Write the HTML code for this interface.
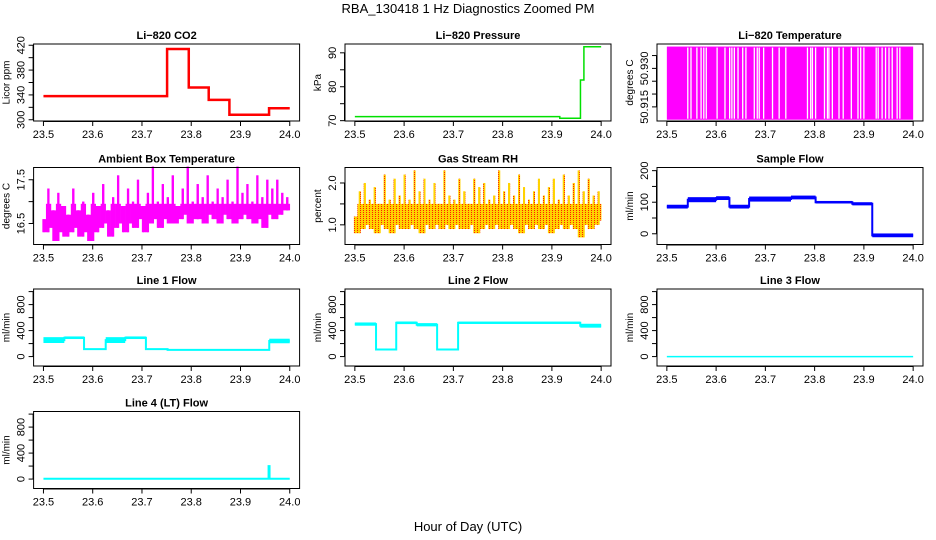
<!DOCTYPE html>
<html><head><meta charset="utf-8"><style>
html,body{margin:0;padding:0;background:#fff;}
svg{display:block;font-family:"Liberation Sans",Arial,sans-serif;}
</style></head><body>
<svg id="c" width="936" height="540" viewBox="0 0 936 540">
<defs><pattern id="dots" width="3" height="2" patternUnits="userSpaceOnUse"><rect width="3" height="2" fill="#ffd200"/><rect width="1" height="1" fill="#ff2000"/></pattern></defs>
<text x="468" y="13" font-size="13" text-anchor="middle">RBA_130418  1 Hz Diagnostics Zoomed PM</text>
<text x="468" y="531" font-size="13" text-anchor="middle">Hour of Day (UTC)</text>
</svg>
<script>
// ---- data ----
const xTicks=[23.5,23.6,23.7,23.8,23.9,24.0];
const co2Times=[23.5,23.751,23.795,23.8355,23.8775,23.958,24.0];
const co2Values=[338,414,352,332,308,318.5];
const presTimes=[23.5,23.916,23.958,23.965,24.0];
const presValues=[71.2,70.7,82,91.8];
const tempGaps=[23.5425,23.549,23.561,23.5695,23.575,23.58,23.602,23.618,23.6275,23.632,23.637,23.6445,23.654,23.6605,23.6775,23.6835,23.6875,23.6965,23.7145,23.728,23.7415,23.7855,23.792,23.7955,23.802,23.82,23.826,23.829,23.836,23.8495,23.858,23.8745,23.888,23.8935,23.9,23.925,23.929,23.937,23.944,23.951,23.9575,23.9675,23.973];
const tempRange=[50.910,50.9385];
const ambValues=[16.6,16.3,17.3,16.4,16.8,16.1,17.2,16.3,16.9,16.2,16.7,16.3,17.3,16.4,16.8,16.2,17.0,16.3,16.7,16.1,17.2,16.3,16.9,16.4,17.4,16.5,16.8,16.2,17.1,16.4,17.6,16.5,16.9,16.3,17.3,16.5,17.0,16.4,17.5,16.6,16.9,16.3,17.2,16.5,17.8,16.6,17.0,16.4,17.4,16.6,17.1,16.5,17.6,16.5,16.9,16.6,17.3,16.7,17.8,16.5,17.0,16.6,17.4,16.6,17.1,16.5,17.6,16.7,17.0,16.6,17.3,16.5,17.1,16.7,17.5,16.6,17.0,16.5,17.8,16.6,17.2,16.7,17.4,16.6,17.0,16.5,17.6,16.6,17.1,16.4,17.5,16.7,17.3,16.6,17.5,16.7,17.2,16.8,17.1,16.8];
const rhValues=[1.2,0.8,1.8,0.9,2.0,1.0,1.6,0.9,1.9,0.8,1.5,1.0,2.2,0.9,1.6,0.8,2.1,1.0,1.7,0.9,2.2,0.9,1.6,1.0,2.3,0.9,1.8,0.8,2.1,1.0,1.6,0.9,2.0,1.0,1.5,0.9,2.3,1.0,1.7,0.9,1.6,1.0,2.1,0.9,1.8,0.9,1.5,1.0,2.1,0.8,1.9,0.9,2.0,1.0,1.6,0.9,1.7,1.0,2.3,0.9,1.8,0.9,2.0,1.0,1.7,0.9,2.2,0.8,1.9,1.0,1.6,0.9,1.8,1.0,2.1,0.9,1.7,1.0,1.9,0.8,2.1,0.9,1.6,1.0,2.2,0.9,1.7,1.0,2.0,0.9,2.3,0.7,1.8,1.0,2.1,0.9,1.7,1.0,1.8,1.1];
const sampleTimes=[23.5,23.5425,23.6,23.627,23.667,23.752,23.802,23.8765,23.917,24.0];
const sampleValues=[86,108,113,86,110,115,100,95,-5];
const sampleNoise=[6,8,6,6,8,6,4,5,6];
const line1Times=[23.5,23.5424,23.5824,23.6264,23.666,23.708,23.752,23.9584,24.0];
const line1Values=[254,290,114,254,290,114,104,240];
const line1Noise=[45,20,6,45,20,6,5,35];
const line2Times=[23.5,23.543,23.584,23.6256,23.667,23.7096,23.9576,24.0];
const line2Values=[500,109,520,490,109,520,475];
const line2Noise=[25,6,20,25,6,18,30];
const line3Times=[23.5,24.0];
const line3Values=[0];
const line4Times=[23.5,23.957,23.959,24.0];
const line4Values=[5,200,5];

// ---- layout ----
const NS='http://www.w3.org/2000/svg';
const svg=document.getElementById('c');
const colL=[33.6,345,657], rowT=[44,167.5,289,411.5], W=266, H=77, X0=23.48, X1=24.02;
function el(tag,attrs,parent){const e=document.createElementNS(NS,tag);for(const k in attrs)e.setAttribute(k,attrs[k]);(parent||svg).appendChild(e);return e;}

function panel(key,col,row,title,ylab,ylim,yticks,ylabels){
  const L=colL[col],T=rowT[row];
  const g=el('g',{});
  
  
  const sx=t=>L+(t-X0)/(X1-X0)*W;
  const sy=v=>T+H-(v-ylim[0])/(ylim[1]-ylim[0])*H;
  const t=el('text',{x:L+W/2,y:T-5,'font-size':11,'font-weight':'bold','text-anchor':'middle'},g);
  t.textContent=title;
  
  
  const ax=el('g',{stroke:'#000','stroke-width':1,fill:'none'},g);
  
  
  el('line',{x1:sx(xTicks[0]),x2:sx(xTicks[xTicks.length-1]),y1:T+H+0.5,y2:T+H+0.5},ax);
  xTicks.forEach(v=>{
    el('line',{x1:sx(v),x2:sx(v),y1:T+H,y2:T+H+5},ax);
    const tx=el('text',{x:sx(v),y:T+H+17,'font-size':11,'text-anchor':'middle',fill:'#000',stroke:'none'},g);
    tx.textContent=v.toFixed(1);
    
    
  });
  const ay=el('g',{stroke:'#000','stroke-width':1},g);
  
  
  el('line',{x1:L-0.5,x2:L-0.5,y1:sy(yticks[0]),y2:sy(yticks[yticks.length-1])},ay);
  yticks.forEach(v=>el('line',{x1:L-5,x2:L,y1:sy(v),y2:sy(v)},ay));
  ylabels.forEach(v=>{
    const x=L-9,y=sy(v.v);
    const tx=el('text',{x:x,y:y,'font-size':11,'text-anchor':'middle',transform:`rotate(-90 ${x} ${y})`},g);
    tx.textContent=v.s;
    
    
  });
  const yl=el('text',{x:L-24,y:T+H/2,'font-size':10,'text-anchor':'middle',transform:`rotate(-90 ${L-24} ${T+H/2})`},g);
  yl.textContent=ylab;
  
  
  const plot=el('g',{},g);
  
  
  el('rect',{x:L,y:T,width:W,height:H,fill:'none',stroke:'#000','stroke-width':1},g);
  return {sx,sy,plot};
}
function steps(p,times,values,color,width,noise){
  if(noise){values.forEach((v,i)=>{
    const r=el('rect',{x:p.sx(times[i]),y:p.sy(v+noise[i]),width:p.sx(times[i+1])-p.sx(times[i]),height:Math.max(1,p.sy(v-noise[i])-p.sy(v+noise[i])),fill:color},p.plot);
    
    
  });}
  let d='';
  values.forEach((v,i)=>{d+=(i?'L':'M')+p.sx(times[i])+' '+p.sy(v)+'L'+p.sx(times[i+1])+' '+p.sy(v);});
  const path=el('path',{d:d,fill:'none',stroke:color,'stroke-width':width},p.plot);
  
  
}
// dense 1 Hz look: core fill between consecutive samples, spikes
function dense(p,vals,fill,coreCap,spikeW){
  const n=vals.length, dx=(p.sx(24)-p.sx(23.5))/(n-1);
  for(let i=0;i<n-1;i++){
    const a=vals[i],b=vals[i+1];
    const lo=Math.min(a,b), hi=Math.max(a,b);
    const x=p.sx(23.5+0.5*i/(n-1));
    const coreHi=Math.min(hi,coreCap);
    const r=el('rect',{x:x,y:p.sy(coreHi),width:dx+0.3,height:Math.max(1,p.sy(lo)-p.sy(coreHi)),fill:fill},p.plot);
    
    
    const sv=a>b?a:b, sxp=a>b?x:x+dx;
    const l=el('rect',{x:sxp-spikeW/2,y:p.sy(sv),width:spikeW,height:p.sy(lo)-p.sy(sv),fill:fill},p.plot);
    
    
  }
}
const lab=a=>a.map(v=>({v:v,s:String(v)}));

// CO2
let p=panel('co2',0,0,'Li\u2212820 CO2','Licor ppm',[298,422],[300,320,340,360,380,400,420],lab([300,340,380,420]));
steps(p,co2Times,co2Values,'#ff0000',2.5);
// Pressure
p=panel('pressure',1,0,'Li\u2212820 Pressure','kPa',[69.9,92.6],[70,75,80,85,90],lab([70,80,90]));
steps(p,presTimes,presValues,'#00e000',1.5);
// Li-820 temperature
p=panel('li820-temp',2,0,'Li\u2212820 Temperature','degrees C',[50.9095,50.9395],[50.915,50.92,50.925,50.93,50.935],[{v:50.915,s:'50.915'},{v:50.93,s:'50.930'}]);
{const r=el('rect',{x:p.sx(23.5),y:p.sy(tempRange[1]),width:p.sx(24)-p.sx(23.5),height:p.sy(tempRange[0])-p.sy(tempRange[1]),fill:'#ff00ff'},p.plot);
 
 tempGaps.forEach(t=>{const l=el('line',{x1:p.sx(t),x2:p.sx(t),y1:p.sy(tempRange[1])+1,y2:p.sy(tempRange[0])-1,stroke:'#fff','stroke-width':1.3},p.plot);
  });}
// Ambient
p=panel('ambient-temp',0,1,'Ambient Box Temperature','degrees C',[16.02,17.78],[16.5,17.0,17.5],[{v:16.5,s:'16.5'},{v:17.5,s:'17.5'}]);
dense(p,ambValues,'#ff00ff',16.95,2.2);
// RH
p=panel('gas-rh',1,1,'Gas Stream RH','percent',[0.53,2.37],[1.0,1.5,2.0],[{v:1,s:'1.0'},{v:2,s:'2.0'}]);
dense(p,rhValues,'url(#dots)',1.5,2);
// Sample flow
p=panel('sample-flow',2,1,'Sample Flow','ml/min',[-34,210],[0,50,100,150,200],lab([0,100,200]));
steps(p,sampleTimes,sampleValues,'#0000ff',2,sampleNoise);
// Lines
const lt=[0,200,400,600,800,1000], ll=lab([0,400,800]);
p=panel('line1-flow',0,2,'Line 1 Flow','ml/min',[-145,1040],lt,ll);
steps(p,line1Times,line1Values,'#00ffff',2,line1Noise);
p=panel('line2-flow',1,2,'Line 2 Flow','ml/min',[-145,1040],lt,ll);
steps(p,line2Times,line2Values,'#00ffff',2,line2Noise);
p=panel('line3-flow',2,2,'Line 3 Flow','ml/min',[-145,1040],lt,ll);
steps(p,line3Times,line3Values,'#00ffff',1.5);
p=panel('line4-flow',0,3,'Line 4 (LT) Flow','ml/min',[-145,1040],lt,ll);
steps(p,line4Times,line4Values,'#00ffff',2);
</script>
</body></html>
